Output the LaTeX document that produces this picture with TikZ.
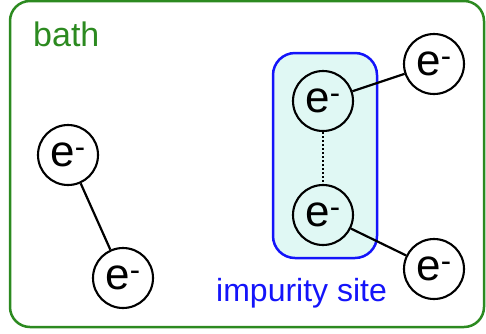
\documentclass[tikz,border=0pt]{standalone}
\usepackage{fontspec}
\setmainfont{Liberation Sans}
\definecolor{bathgreen}{RGB}{44,138,32}
\definecolor{impblue}{RGB}{20,20,250}
\definecolor{impfill}{RGB}{224,248,244}
\tikzset{
  electron/.style={circle,draw=black,line width=2.1pt,fill=white,minimum size=60pt,inner sep=0pt,font=\fontsize{44}{48}\selectfont},
  bond/.style={line width=2.2pt,black},
}
\newcommand{\elec}{e\textsuperscript{-}}
\begin{document}
\begin{tikzpicture}[x=1pt,y=-1pt]
\useasboundingbox (0,0) rectangle (486,333);
\draw[bathgreen,line width=2.5pt,rounded corners=20pt] (10,1) rectangle (484,327);
\node[bathgreen,anchor=base west,font=\fontsize{34}{38}\selectfont,inner sep=0pt] (bath) at (33,46) {bath};
\draw[impblue,fill=impfill,line width=2.5pt,rounded corners=22pt] (273,53) rectangle (377,258);
\node[impblue,anchor=base west,font=\fontsize{32}{36}\selectfont,inner sep=0pt] (imp) at (216,301) {impurity site};
\node[electron] (L1) at (68,155) {\elec};
\node[electron] (L2) at (123,278) {\elec};
\node[electron,fill=none] (I1) at (323,101) {\elec};
\node[electron,fill=none] (I2) at (323,215) {\elec};
\node[electron] (R1) at (434,64) {\elec};
\node[electron] (R2) at (434,269) {\elec};
\draw[bond] (L1) -- (L2);
\draw[bond] (I1) -- (R1);
\draw[bond] (I2) -- (R2);
\draw[line width=2pt,dotted] (I1) -- (I2);
\end{tikzpicture}
\end{document}
